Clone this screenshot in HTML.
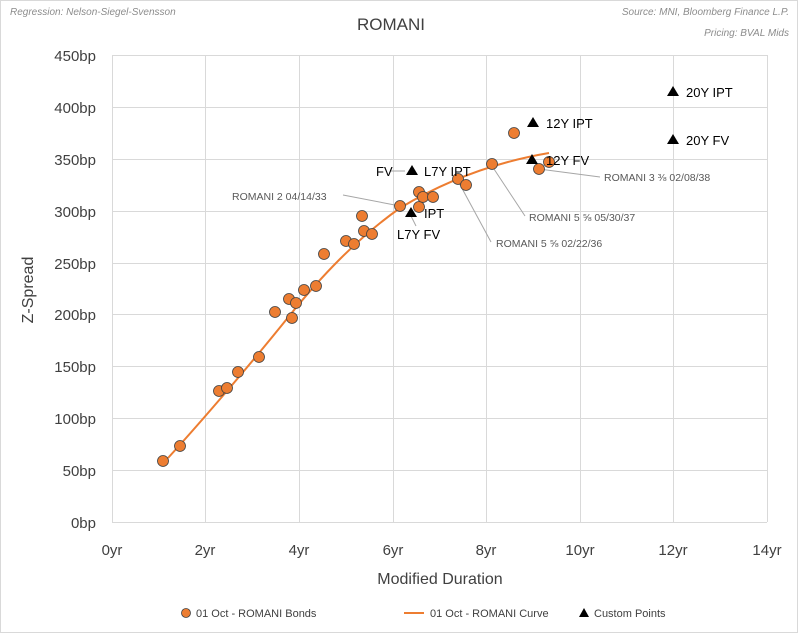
<!DOCTYPE html>
<html><head><style>
body{margin:0;background:#fff}
svg{display:block;font-family:"Liberation Sans",sans-serif}
</style></head><body>
<svg width="798" height="633" viewBox="0 0 798 633">
<rect x="0.5" y="0.5" width="797" height="632" fill="#fff" stroke="#d9d9d9"/>
<text x="10" y="15" font-size="10" fill="#8c8c8c" font-style="italic">Regression: Nelson-Siegel-Svensson</text>
<text x="789" y="15" font-size="10" fill="#8c8c8c" font-style="italic" text-anchor="end">Source: MNI, Bloomberg Finance L.P.</text>
<text x="789" y="36" font-size="10" fill="#8c8c8c" font-style="italic" text-anchor="end">Pricing: BVAL Mids</text>
<text x="391" y="30" font-size="17" fill="#404040" text-anchor="middle">ROMANI</text>
<g stroke="#d9d9d9" stroke-width="1">
<line x1="112" y1="55.5" x2="767" y2="55.5"/><line x1="112" y1="107.5" x2="767" y2="107.5"/><line x1="112" y1="159.5" x2="767" y2="159.5"/><line x1="112" y1="211.5" x2="767" y2="211.5"/><line x1="112" y1="263.5" x2="767" y2="263.5"/><line x1="112" y1="314.5" x2="767" y2="314.5"/><line x1="112" y1="366.5" x2="767" y2="366.5"/><line x1="112" y1="418.5" x2="767" y2="418.5"/><line x1="112" y1="470.5" x2="767" y2="470.5"/><line x1="112" y1="522.5" x2="767" y2="522.5"/>
<line x1="112.5" y1="55" x2="112.5" y2="522"/><line x1="205.5" y1="55" x2="205.5" y2="522"/><line x1="299.5" y1="55" x2="299.5" y2="522"/><line x1="393.5" y1="55" x2="393.5" y2="522"/><line x1="486.5" y1="55" x2="486.5" y2="522"/><line x1="580.5" y1="55" x2="580.5" y2="522"/><line x1="673.5" y1="55" x2="673.5" y2="522"/><line x1="767.5" y1="55" x2="767.5" y2="522"/>
</g>
<g font-size="15" fill="#404040" text-anchor="end">
<text x="96" y="61">450bp</text><text x="96" y="113">400bp</text><text x="96" y="165">350bp</text><text x="96" y="217">300bp</text><text x="96" y="269">250bp</text><text x="96" y="320">200bp</text><text x="96" y="372">150bp</text><text x="96" y="424">100bp</text><text x="96" y="476">50bp</text><text x="96" y="528">0bp</text>
</g>
<g font-size="15" fill="#404040" text-anchor="middle">
<text x="112" y="555">0yr</text><text x="205" y="555">2yr</text><text x="299" y="555">4yr</text><text x="393" y="555">6yr</text><text x="486" y="555">8yr</text><text x="580" y="555">10yr</text><text x="673" y="555">12yr</text><text x="767" y="555">14yr</text>
</g>
<text x="440" y="584" font-size="16" fill="#404040" text-anchor="middle">Modified Duration</text>
<text transform="translate(33,290) rotate(-90)" font-size="16" fill="#404040" text-anchor="middle">Z-Spread</text>
<g stroke="#a6a6a6" stroke-width="1" fill="none">
<line x1="343" y1="195" x2="400" y2="206"/>
<line x1="539" y1="169" x2="600" y2="177"/>
<line x1="492" y1="166" x2="525" y2="216"/>
<line x1="458" y1="181" x2="491" y2="242"/>
<line x1="390" y1="171" x2="405" y2="171"/>
<line x1="411" y1="216" x2="416" y2="226"/>
</g>
<path d="M168,458 C200,423 250,365 290,315 C320,278 355,240 400,208 C440,184 490,163 549,153" stroke="#ed7d31" stroke-width="2" fill="none"/>
<g fill="#ed7d31" stroke="#404040" stroke-width="0.8">
<circle cx="163" cy="461" r="5.5"/><circle cx="180" cy="446" r="5.5"/><circle cx="219" cy="391" r="5.5"/><circle cx="227" cy="388" r="5.5"/><circle cx="238" cy="372" r="5.5"/><circle cx="259" cy="357" r="5.5"/><circle cx="275" cy="312" r="5.5"/><circle cx="289" cy="299" r="5.5"/><circle cx="292" cy="318" r="5.5"/><circle cx="296" cy="303" r="5.5"/><circle cx="304" cy="290" r="5.5"/><circle cx="316" cy="286" r="5.5"/><circle cx="324" cy="254" r="5.5"/><circle cx="346" cy="241" r="5.5"/><circle cx="354" cy="244" r="5.5"/><circle cx="362" cy="216" r="5.5"/><circle cx="364" cy="231" r="5.5"/><circle cx="372" cy="234" r="5.5"/><circle cx="400" cy="206" r="5.5"/><circle cx="419" cy="207" r="5.5"/><circle cx="419" cy="192" r="5.5"/><circle cx="423" cy="197" r="5.5"/><circle cx="433" cy="197" r="5.5"/><circle cx="458" cy="179" r="5.5"/><circle cx="466" cy="185" r="5.5"/><circle cx="492" cy="164" r="5.5"/><circle cx="514" cy="133" r="5.5"/><circle cx="539" cy="169" r="5.5"/><circle cx="549" cy="162" r="5.5"/>
</g>
<g fill="#000">
<path d="M533,117 l6,10 h-12z"/><path d="M673,86 l6,10 h-12z"/><path d="M673,134 l6,10 h-12z"/><path d="M532,154 l6,10 h-12z"/><path d="M412,165 l6,10 h-12z"/><path d="M411,207 l6,10 h-12z"/>
</g>
<g font-size="13" fill="#000">
<text x="546" y="128">12Y IPT</text><text x="686" y="97">20Y IPT</text><text x="686" y="145">20Y FV</text><text x="546" y="165">12Y FV</text><text x="424" y="176">L7Y IPT</text><text x="376" y="176">FV</text><text x="424" y="218">IPT</text><text x="397" y="239">L7Y FV</text>
</g>
<g font-size="10.5" fill="#595959">
<text x="232" y="200">ROMANI 2 04/14/33</text>
<text x="604" y="181">ROMANI 3 ⅜ 02/08/38</text>
<text x="529" y="221">ROMANI 5 ⅝ 05/30/37</text>
<text x="496" y="247">ROMANI 5 ⅝ 02/22/36</text>
</g>
<g font-size="11" fill="#404040">
<circle cx="186" cy="613" r="4.5" fill="#ed7d31" stroke="#404040" stroke-width="0.8"/>
<text x="196" y="617">01 Oct - ROMANI Bonds</text>
<line x1="404" y1="613" x2="424" y2="613" stroke="#ed7d31" stroke-width="2"/>
<text x="430" y="617">01 Oct - ROMANI Curve</text>
<path d="M584,608 l5,9 h-10z" fill="#000"/>
<text x="594" y="617">Custom Points</text>
</g>
</svg>
</body></html>
